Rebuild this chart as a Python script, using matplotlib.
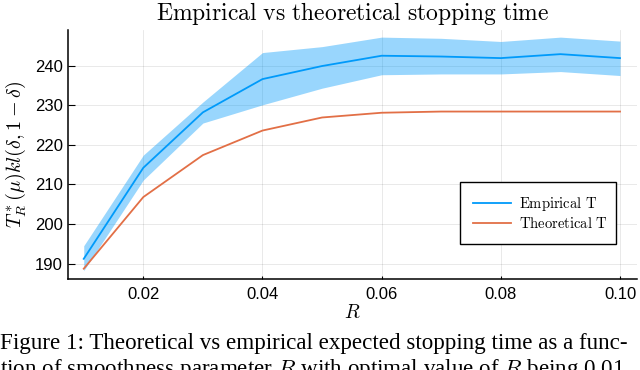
import matplotlib
matplotlib.use("Agg")
import matplotlib.pyplot as plt

R = [0.01, 0.02, 0.03, 0.04, 0.05, 0.06, 0.07, 0.08, 0.09, 0.10]
emp_mean = [191.2, 214.2, 228.2, 236.6, 239.9, 242.5, 242.3, 241.9, 242.9, 241.9]
emp_low = [188.2, 211.1, 225.5, 230.1, 234.3, 237.7, 237.9, 237.9, 238.5, 237.5]
emp_high = [194.5, 217.4, 230.8, 243.3, 244.8, 247.2, 246.9, 246.1, 247.2, 246.2]
theo = [188.7, 206.8, 217.4, 223.6, 226.9, 228.1, 228.4, 228.4, 228.4, 228.4]
xticks = [0.02, 0.04, 0.06, 0.08, 0.10]
xticklabels = ["0.02", "0.04", "0.06", "0.08", "0.10"]
yticks = [190, 200, 210, 220, 230, 240]
yticklabels = ["190", "200", "210", "220", "230", "240"]

plt.rcParams["mathtext.fontset"] = "cm"
plt.rcParams["font.family"] = ["Liberation Sans", "DejaVu Sans"]
BLUE = "#009AFA"
ORANGE = "#E26F46"

fig = plt.figure(figsize=(6.4, 3.7), dpi=100)
ax = fig.add_axes([68.3 / 640, 1 - 279 / 370, (637 - 68.3) / 640, (279 - 30) / 370])

ax.fill_between(R, emp_low, emp_high, color=BLUE, alpha=0.4, linewidth=0)
ax.plot(R, emp_mean, color=BLUE, lw=1.3, label=r"$\mathrm{Empirical\ T}$")
ax.plot(R, theo, color=ORANGE, lw=1.3, label=r"$\mathrm{Theoretical\ T}$")

ax.set_xlim(0.00741, 0.10285)
ax.set_ylim(186.1, 249.0)
ax.set_xticks(xticks)
ax.set_xticklabels(xticklabels, fontsize=12)
ax.set_yticks(yticks)
ax.set_yticklabels(yticklabels, fontsize=12)
ax.tick_params(axis="y", direction="in", length=5, width=0.8, pad=4)
ax.tick_params(axis="x", direction="in", length=2.5, width=0.8, pad=5.5)
ax.grid(True, color="black", alpha=0.1, lw=0.6)
ax.set_axisbelow(True)
for s in ["top", "right"]:
    ax.spines[s].set_visible(False)
for s in ["left", "bottom"]:
    ax.spines[s].set_linewidth(1.1)

ax.set_title(r"$\mathrm{Empirical\ vs\ theoretical\ stopping\ time}$", fontsize=17, pad=7)
ax.set_xlabel(r"$R$", fontsize=14, labelpad=2)
ax.set_ylabel(r"$T^*_R(\mu)kl(\delta,1-\delta)$", fontsize=14.5, labelpad=5)

leg = ax.legend(loc="upper left", bbox_to_anchor=((460 - 68.3) / 568.7, (279 - 181.7) / 249, (616 - 460) / 568.7, 0.0),
                mode="expand", borderaxespad=0, fontsize=10.5, handlelength=2.6, handletextpad=0.55,
                labelspacing=0.2, borderpad=0.9, fancybox=False, framealpha=1)
leg.get_frame().set_edgecolor("black")
leg.get_frame().set_linewidth(1.0)

fig.text(0.0, 1 - 349.3 / 370, "Figure 1: Theoretical vs empirical expected stopping time as a func-",
         fontfamily="Liberation Serif", fontsize=16.6, ha="left", va="baseline")
fig.text(0.0, 1 - 375 / 370, "tion of smoothness parameter $R$ with optimal value of $R$ being 0.01",
         fontfamily="Liberation Serif", fontsize=16.6, ha="left", va="baseline")

fig.savefig("out.png", dpi=100)
